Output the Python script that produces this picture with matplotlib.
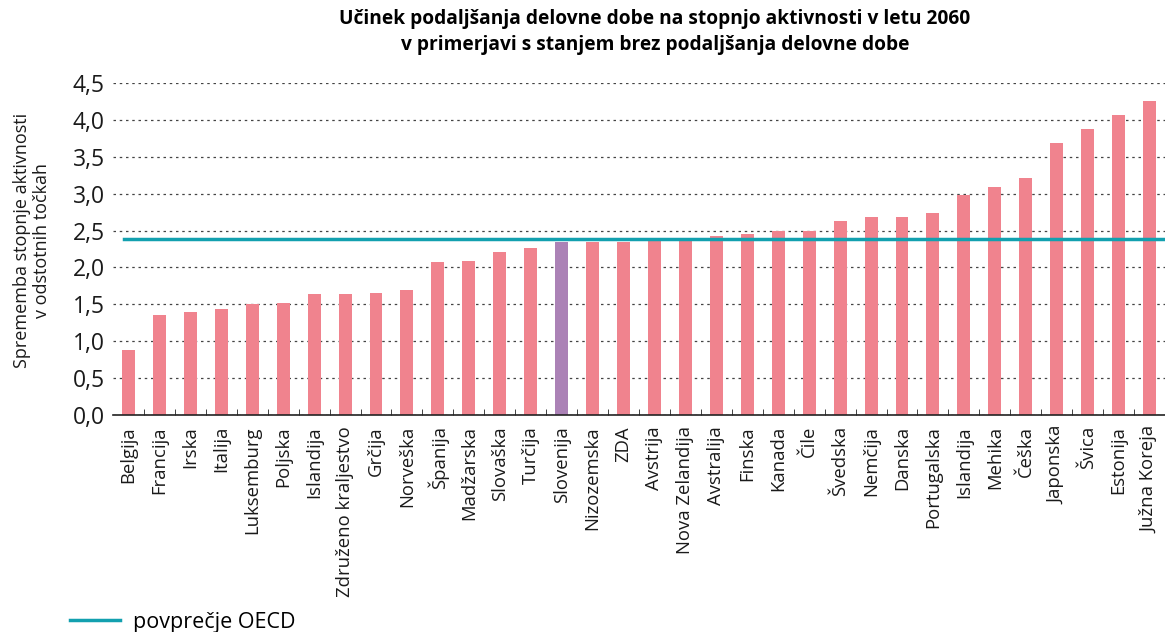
import matplotlib
matplotlib.use("Agg")
import matplotlib.pyplot as plt
from matplotlib.lines import Line2D
import numpy as np

countries = ["Belgija", "Francija", "Irska", "Italija", "Luksemburg", "Poljska",
             "Islandija", "Združeno kraljestvo", "Grčija", "Norveška", "Španija",
             "Madžarska", "Slovaška", "Turčija", "Slovenija", "Nizozemska", "ZDA",
             "Avstrija", "Nova Zelandija", "Avstralija", "Finska", "Kanada", "Čile",
             "Švedska", "Nemčija", "Danska", "Portugalska", "Islandija", "Mehika",
             "Češka", "Japonska", "Švica", "Estonija", "Južna Koreja"]
values = [0.88, 1.36, 1.40, 1.44, 1.50, 1.52, 1.64, 1.64, 1.65, 1.70, 2.07,
          2.09, 2.21, 2.27, 2.35, 2.35, 2.35, 2.38, 2.40, 2.42, 2.46, 2.50, 2.50,
          2.63, 2.69, 2.69, 2.74, 2.98, 3.09, 3.21, 3.69, 3.88, 4.07, 4.25]
oecd_avg = 2.38
highlight = "Slovenija"
yticks = [0.0, 0.5, 1.0, 1.5, 2.0, 2.5, 3.0, 3.5, 4.0, 4.5]
title = ("Učinek podaljšanja delovne dobe na stopnjo aktivnosti v letu 2060\n"
         "v primerjavi s stanjem brez podaljšanja delovne dobe")
ylabel = "Sprememba stopnje aktivnosti\nv odstotnih točkah"
legend_label = "povprečje OECD"

PINK = "#F0838E"
PURPLE = "#AB82B6"
TEAL = "#12A0AF"

plt.rcParams['font.family'] = ['Open Sans', 'DejaVu Sans']

fig = plt.figure(figsize=(11.65, 6.32), dpi=100)
ax = fig.add_axes([113/1165, 1 - 415/632, (1165 - 113)/1165, (415 - 83)/632])

x = np.arange(len(countries))
colors = [PURPLE if c == highlight else PINK for c in countries]
ax.bar(x, values, width=0.42, color=colors, zorder=2)
ax.axhline(oecd_avg, xmin=0.01, xmax=1, color=TEAL, lw=2.5, zorder=3)

ax.set_xlim(-0.5, len(countries) - 0.5)
ax.set_ylim(0, 4.5)
ax.set_yticks(yticks)
ax.set_yticklabels([f"{v:.1f}".replace(".", ",") for v in yticks], fontsize=16.5, color="#1a1a1a")
ax.yaxis.grid(True, linestyle=(0, (2, 3)), color="#444444", lw=0.9, zorder=0)
ax.set_axisbelow(True)

ax.set_xticks(x)
ax.set_xticklabels(countries, rotation=90, fontsize=13.3, color="#1a1a1a")
ax.tick_params(axis='x', which='major', length=0, pad=8)
ax.set_xticks(np.arange(len(countries) - 1) + 0.5, minor=True)
ax.tick_params(axis='x', which='minor', direction='in', length=4, color="#222222")
ax.tick_params(axis='y', length=0, pad=6)

for s in ["top", "right", "left"]:
    ax.spines[s].set_visible(False)
ax.spines["bottom"].set_color("#222222")
ax.spines["bottom"].set_linewidth(1.2)

fig.text(655/1165, 1 - 32/632, title, ha="center", va="center", fontsize=13.8,
         fontweight="bold", linespacing=1.35, family=['Open Sans', 'DejaVu Sans'])
fig.text(32/1165, 1 - 240/632, ylabel, ha="center", va="center", rotation=90,
         fontsize=13, linespacing=1.2, color="#1a1a1a")

handle = Line2D([0], [0], color=TEAL, lw=2.5)
fig.legend([handle], [legend_label], loc="lower left", bbox_to_anchor=(51/1165, -0.032),
           frameon=False, fontsize=15.5, handlelength=2.3, handletextpad=0.6)

fig.savefig("out.png", dpi=100)
